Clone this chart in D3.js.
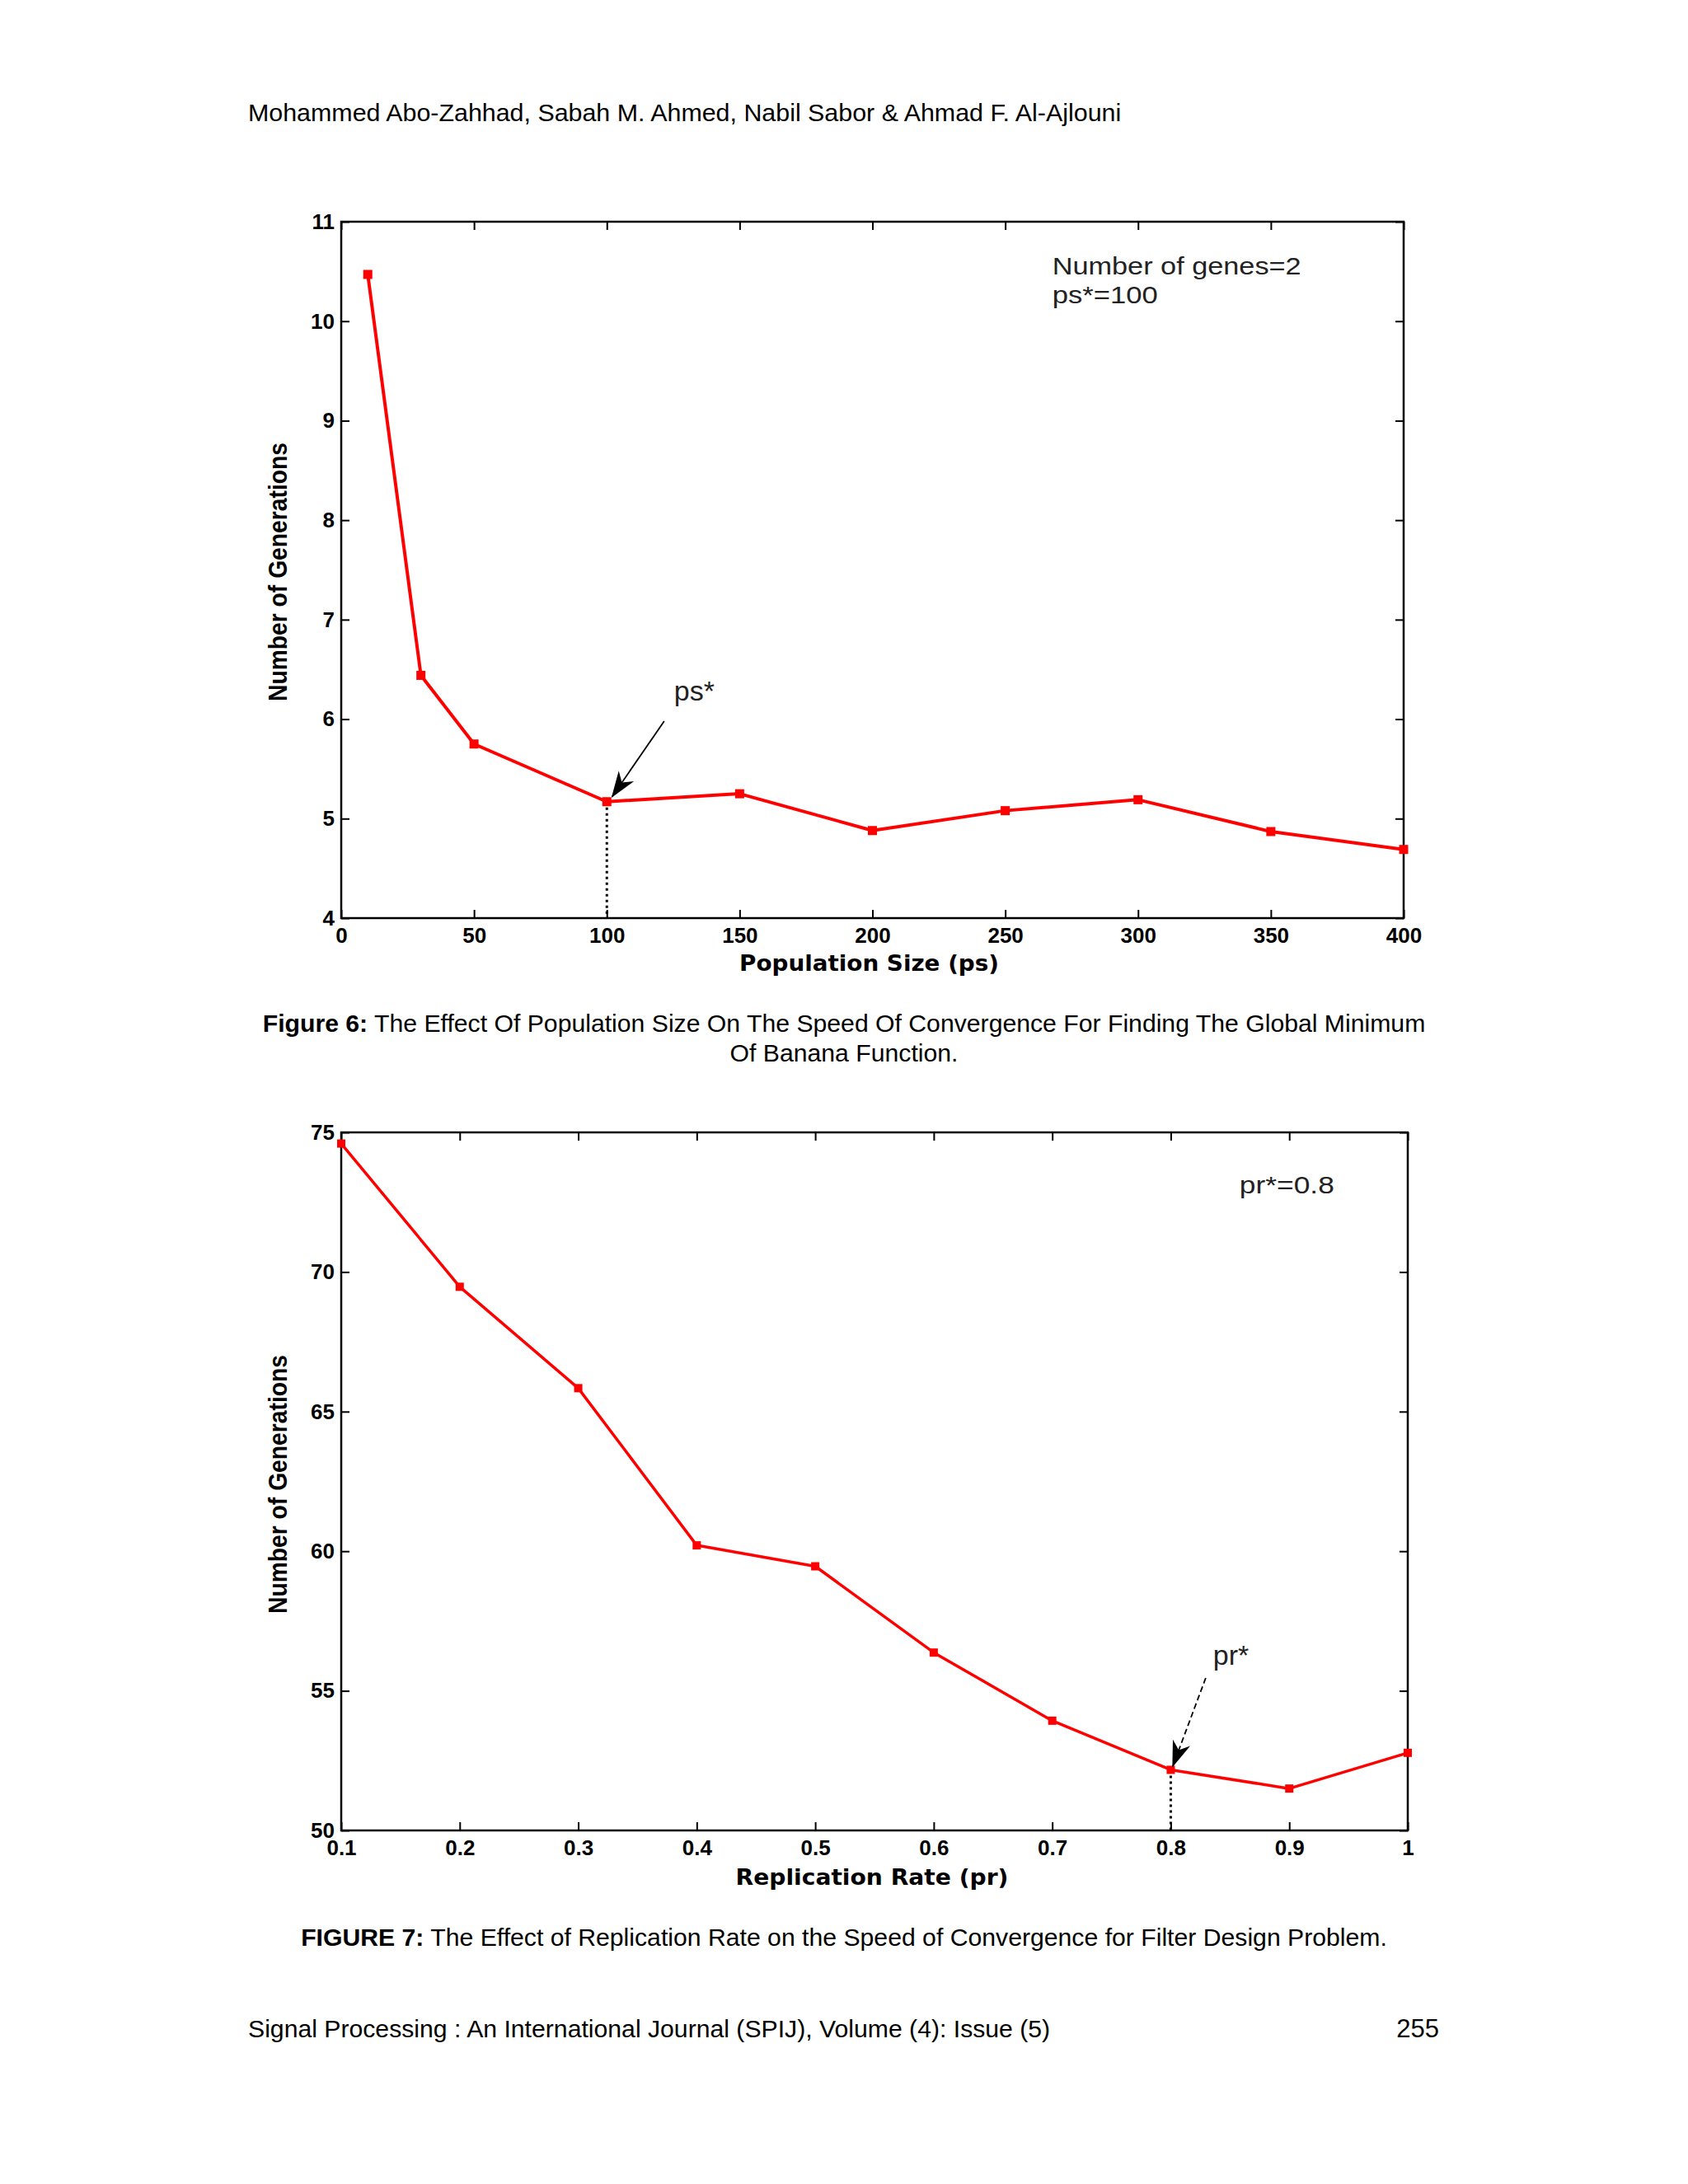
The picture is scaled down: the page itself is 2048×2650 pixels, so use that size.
<!DOCTYPE html>
<html>
<head>
<meta charset="utf-8">
<script src="https://cdn.jsdelivr.net/npm/d3@7"></script>
<style>
  html, body { margin: 0; padding: 0; background: #fff; }
  svg { display: block; }
</style>
</head>
<body>
<div id="page"></div>
<script>
// figure 6: population size vs generations
const popSize = [10, 30, 50, 100, 150, 200, 250, 300, 350, 400];
const popGenerations = [10.47, 6.44, 5.75, 5.17, 5.25, 4.88, 5.08, 5.19, 4.87, 4.69];
const popTicksX = [0, 50, 100, 150, 200, 250, 300, 350, 400];
const popTicksY = [4, 5, 6, 7, 8, 9, 10, 11];

// figure 7: replication rate vs generations
const repRate = [0.1, 0.2, 0.3, 0.4, 0.5, 0.6, 0.7, 0.8, 0.9, 1.0];
const repGenerations = [74.6, 69.47, 65.84, 60.21, 59.46, 56.37, 53.93, 52.17, 51.5, 52.78];
const repTicksX = [0.1, 0.2, 0.3, 0.4, 0.5, 0.6, 0.7, 0.8, 0.9, 1];
const repTicksY = [50, 55, 60, 65, 70, 75];

(function(){
  const W = 2048, H = 2650;
  const svg = d3.select('#page').append('svg').attr('width', W).attr('height', H);
  svg.append('rect').attr('width', W).attr('height', H).attr('fill', '#fff');

  const defs = svg.append('defs');
  defs.append('marker').attr('id', 'arrowHead')
    .attr('viewBox', '0 0 20 20').attr('refX', 19).attr('refY', 10)
    .attr('markerWidth', 32).attr('markerHeight', 32).attr('markerUnits', 'userSpaceOnUse')
    .attr('orient', 'auto')
    .append('path').attr('d', 'M0,3 L20,10 L0,17 L6,10 Z').attr('fill', '#000');

  const textFont = '"Liberation Sans", Arial, sans-serif';
  const tickFont = '"Liberation Sans", Arial, sans-serif';
  const labelFont = '"DejaVu Sans", Verdana, sans-serif';

  // page header / footer
  svg.append('text').attr('x', 301).attr('y', 147)
    .style('font-family', textFont).style('font-size', '30.4px').attr('fill', '#000')
    .text('Mohammed Abo-Zahhad, Sabah M. Ahmed, Nabil Sabor & Ahmad F. Al-Ajlouni');
  svg.append('text').attr('x', 301).attr('y', 2472)
    .style('font-family', textFont).style('font-size', '30.2px').attr('fill', '#000')
    .text('Signal Processing : An International Journal (SPIJ), Volume (4): Issue (5)');
  svg.append('text').attr('x', 1746).attr('y', 2472).attr('text-anchor', 'end')
    .style('font-family', textFont).style('font-size', '31px').attr('fill', '#000')
    .text('255');

  function caption(lines){
    lines.forEach(l => {
      const t = svg.append('text').attr('x', 1024).attr('y', l.y).attr('text-anchor', 'middle')
        .style('font-family', textFont).style('font-size', '30.2px').attr('fill', '#000');
      if (l.bold) t.append('tspan').style('font-weight', 700).text(l.bold);
      t.append('tspan').text(l.text);
    });
  }

  function drawChart(cfg){
    const x = d3.scaleLinear().domain(cfg.xDomain).range([cfg.left, cfg.right]);
    const y = d3.scaleLinear().domain(cfg.yDomain).range([cfg.bottom, cfg.top]);
    const g = svg.append('g');
    const fmt = d3.format('~g');

    const styleAxis = sel => {
      sel.select('.domain').remove();
      sel.selectAll('.tick line').attr('stroke', '#000').attr('stroke-width', 2);
      sel.selectAll('.tick text').attr('fill', '#000')
        .style('font-family', tickFont).style('font-size', '26px').style('font-weight', 700);
    };

    g.append('g').attr('transform', `translate(0,${cfg.bottom})`)
      .call(d3.axisBottom(x).tickValues(cfg.ticksX).tickSize(-10).tickPadding(12).tickFormat(fmt))
      .call(styleAxis);
    g.append('g').attr('transform', `translate(0,${cfg.top})`)
      .call(d3.axisTop(x).tickValues(cfg.ticksX).tickSize(-10).tickFormat(''))
      .call(styleAxis);
    g.append('g').attr('transform', `translate(${cfg.left},0)`)
      .call(d3.axisLeft(y).tickValues(cfg.ticksY).tickSize(-10).tickPadding(8).tickFormat(fmt))
      .call(styleAxis);
    g.append('g').attr('transform', `translate(${cfg.right},0)`)
      .call(d3.axisRight(y).tickValues(cfg.ticksY).tickSize(-10).tickFormat(''))
      .call(styleAxis);

    g.append('rect').attr('x', cfg.left).attr('y', cfg.top)
      .attr('width', cfg.right - cfg.left).attr('height', cfg.bottom - cfg.top)
      .attr('fill', 'none').attr('stroke', '#000').attr('stroke-width', 2.5);

    // dotted drop line at optimum
    const opt = cfg.optIndex;
    g.append('line')
      .attr('x1', x(cfg.xs[opt])).attr('x2', x(cfg.xs[opt]))
      .attr('y1', y(cfg.ys[opt])).attr('y2', cfg.bottom)
      .attr('stroke', '#000').attr('stroke-width', 3).attr('stroke-dasharray', '3,4');

    // data line + square markers
    const pts = cfg.xs.map((v, i) => [v, cfg.ys[i]]);
    g.append('path').datum(pts)
      .attr('d', d3.line().x(d => x(d[0])).y(d => y(d[1])))
      .attr('fill', 'none').attr('stroke', '#ff0000').attr('stroke-width', cfg.lineWidth)
      .attr('stroke-linejoin', 'round');
    g.selectAll('rect.mk').data(pts).join('rect').attr('class', 'mk')
      .attr('x', d => x(d[0]) - cfg.mk / 2).attr('y', d => y(d[1]) - cfg.mk / 2)
      .attr('width', cfg.mk).attr('height', cfg.mk).attr('fill', '#ff0000');

    // arrow annotation
    const a = cfg.arrow;
    g.append('line')
      .attr('x1', x(a.from[0])).attr('y1', y(a.from[1]))
      .attr('x2', x(a.to[0])).attr('y2', y(a.to[1]))
      .attr('stroke', '#000').attr('stroke-width', 1.8)
      .attr('stroke-dasharray', a.dash || null)
      .attr('marker-end', 'url(#arrowHead)');
    g.append('text').attr('x', x(a.label[0])).attr('y', y(a.label[1]))
      .style('font-family', textFont).style('font-size', '34px').attr('fill', '#222')
      .text(a.text);

    cfg.notes.forEach(n => {
      g.append('text').attr('x', x(n.at[0])).attr('y', y(n.at[1]))
        .attr('textLength', n.len).attr('lengthAdjust', 'spacingAndGlyphs')
        .style('font-family', textFont).style('font-size', '30px').attr('fill', '#222')
        .text(n.text);
    });

    // axis titles
    g.append('text')
      .attr('x', (cfg.left + cfg.right) / 2 + cfg.xLabelShift).attr('y', cfg.xLabelY)
      .attr('text-anchor', 'middle')
      .attr('textLength', cfg.xLabelLen).attr('lengthAdjust', 'spacingAndGlyphs')
      .style('font-family', labelFont).style('font-size', '26px').style('font-weight', 700)
      .attr('fill', '#000').text(cfg.xLabel);
    g.append('text')
      .attr('transform', `translate(${cfg.yLabelX},${cfg.yLabelMid}) rotate(-90)`)
      .attr('text-anchor', 'middle')
      .attr('textLength', 314).attr('lengthAdjust', 'spacingAndGlyphs')
      .style('font-family', '"Liberation Sans Narrow", "Liberation Sans", Arial, sans-serif')
      .style('font-size', '32px').style('font-weight', 700)
      .attr('fill', '#000').text('Number of Generations');
  }

  drawChart({
    left: 414, right: 1703, top: 269, bottom: 1114,
    xDomain: [0, 400], yDomain: [4, 11],
    ticksX: popTicksX, ticksY: popTicksY,
    xs: popSize, ys: popGenerations, optIndex: 3,
    lineWidth: 4, mk: 11,
    arrow: { from: [121.6, 5.98], to: [102, 5.22], label: [125.3, 6.19], text: 'ps*' },
    notes: [
      { at: [267.7, 10.47], text: 'Number of genes=2', len: 302 },
      { at: [267.7, 10.18], text: 'ps*=100', len: 128 }
    ],
    xLabel: 'Population Size (ps)', xLabelY: 1178, xLabelLen: 315, xLabelShift: -4,
    yLabelX: 348, yLabelMid: 694
  });
  caption([
    { y: 1252, bold: 'Figure 6:', text: ' The Effect Of Population Size On The Speed Of Convergence For Finding The Global Minimum' },
    { y: 1288, text: 'Of Banana Function.' }
  ]);

  drawChart({
    left: 414, right: 1708, top: 1374, bottom: 2221,
    xDomain: [0.1, 1], yDomain: [50, 75],
    ticksX: repTicksX, ticksY: repTicksY,
    xs: repRate, ys: repGenerations, optIndex: 7,
    lineWidth: 3.5, mk: 10,
    arrow: { from: [0.8295, 55.46], to: [0.8017, 52.3], label: [0.8357, 55.93], text: 'pr*', dash: '7,4' },
    notes: [ { at: [0.858, 72.82], text: 'pr*=0.8', len: 115 } ],
    xLabel: 'Replication Rate (pr)', xLabelY: 2287, xLabelLen: 331, xLabelShift: -3,
    yLabelX: 348, yLabelMid: 1801
  });
  caption([
    { y: 2361, bold: 'FIGURE 7:', text: ' The Effect of Replication Rate on the Speed of Convergence for Filter Design Problem.' }
  ]);
})();
</script>
</body>
</html>
